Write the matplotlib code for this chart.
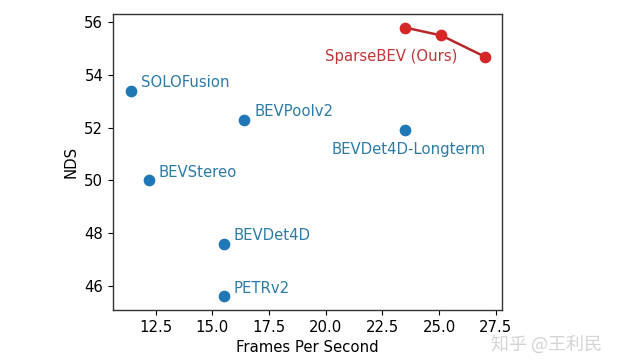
import matplotlib
matplotlib.use('Agg')
import matplotlib.pyplot as plt

# Datos de los métodos (FPS, NDS)
methods = ['SOLOFusion', 'BEVStereo', 'BEVDet4D', 'PETRv2', 'BEVPoolv2', 'BEVDet4D-Longterm']
fps = [11.4, 12.2, 15.5, 15.5, 16.4, 23.5]
nds = [53.4, 50.0, 47.6, 45.6, 52.3, 51.9]

# SparseBEV (Ours)
ours_fps = [23.5, 25.1, 27.0]
ours_nds = [55.8, 55.5, 54.7]

blue = '#1f77b4'
red = '#d62728'
fs = 10.7

fig = plt.figure(figsize=(6.17, 3.62), dpi=100)
ax = fig.add_axes([0.183, 0.144, 0.631, 0.817])

ax.scatter(fps, nds, color=blue, s=55, zorder=3)
ax.plot(ours_fps, ours_nds, color='#b5292b', lw=1.8, zorder=2)
ax.scatter(ours_fps, ours_nds, color=red, s=55, zorder=3)

# Etiquetas
for name, x, y in zip(methods, fps, nds):
    if name == 'BEVDet4D-Longterm':
        ax.annotate(name, (x, y), xytext=(3, -19), textcoords='offset pixels',
                    ha='center', va='center', color='#2b7ba6', fontsize=fs)
    else:
        ax.annotate(name, (x, y), xytext=(10, 8), textcoords='offset pixels',
                    ha='left', va='center', color='#2b7ba6', fontsize=fs)

ax.annotate('SparseBEV (Ours)', (ours_fps[-1], ours_nds[-1]), xytext=(-27, 0),
            textcoords='offset pixels', ha='right', va='center', color='#c03535', fontsize=fs)

ax.set_xlabel('Frames Per Second', fontsize=fs)
ax.set_ylabel('NDS', fontsize=fs)
ax.set_xticks([12.5, 15.0, 17.5, 20.0, 22.5, 25.0, 27.5])
ax.set_yticks([46, 48, 50, 52, 54, 56])
ax.tick_params(labelsize=fs)
for s in ax.spines.values():
    s.set_color('#333333')
    s.set_linewidth(1.0)

# marca de agua
fig.text(0.975, 0.05, '知乎 @王利民', ha='right', va='center', color='#d4d4d4',
         fontsize=13, family=['Noto Sans CJK SC', 'DejaVu Sans'])

fig.savefig('out.png', dpi=100)
